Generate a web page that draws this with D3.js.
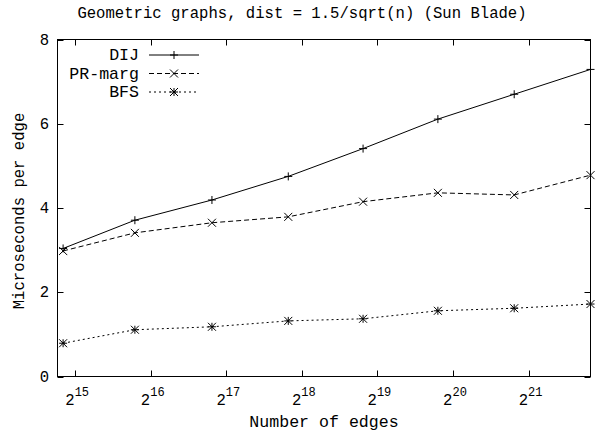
<!DOCTYPE html>
<html>
<head>
<meta charset="utf-8">
<script src="https://cdn.jsdelivr.net/npm/d3@7"></script>
<style>
  html, body { margin: 0; padding: 0; background: #fff; }
  svg { display: block; }
  text { font-family: "Liberation Mono", "DejaVu Sans Mono", monospace; fill: #000; }
</style>
</head>
<body>
<svg id="chart" width="601" height="434"></svg>
<script>
// Number of edges for each measured graph size
const edges = [29330, 56660, 114900, 231400, 459600, 912900, 1838400, 3702300];
// Microseconds per edge for each algorithm
const dij   = [3.04, 3.71, 4.19, 4.75, 5.41, 6.11, 6.70, 7.29];
const prMarg = [2.98, 3.41, 3.65, 3.79, 4.15, 4.36, 4.31, 4.78];
const bfs   = [0.79, 1.11, 1.18, 1.32, 1.37, 1.56, 1.62, 1.72];
const seriesNames = ["DIJ", "PR-marg", "BFS"];
const xTickExponents = [15, 16, 17, 18, 19, 20, 21];
const yTicks = [0, 2, 4, 6, 8];

const svg = d3.select("#chart");
const margin = { left: 57.5, right: 601 - 590.5, top: 39.5, bottom: 434 - 376.5 };
const W = 601, H = 434;

const x = d3.scaleLog().base(2)
  .domain([27860, d3.max(edges)])
  .range([margin.left, W - margin.right]);
const y = d3.scaleLinear()
  .domain([0, 8])
  .range([H - margin.bottom, margin.top]);

const series = [
  { name: seriesNames[0], values: dij,    dash: null,  marker: "plus" },
  { name: seriesNames[1], values: prMarg, dash: "5,3", marker: "cross" },
  { name: seriesNames[2], values: bfs,    dash: "2,3", marker: "star" }
];

// Title
svg.append("text")
  .attr("x", 302).attr("y", 18)
  .attr("text-anchor", "middle")
  .style("font-size", "15.6px")
  .text("Geometric graphs, dist = 1.5/sqrt(n) (Sun Blade)");

// Frame
const x0 = margin.left, x1 = W - margin.right, y0 = H - margin.bottom, y1 = margin.top;
svg.append("rect")
  .attr("x", x0).attr("y", y1)
  .attr("width", x1 - x0).attr("height", y0 - y1)
  .attr("fill", "none").attr("stroke", "#000").attr("stroke-width", 1);

// Axes with inward ticks, mirrored on top/right
const tickVals = xTickExponents.map(e => Math.pow(2, e));
const tickLen = 6;
const ticks = svg.append("g").attr("stroke", "#000").attr("stroke-width", 1);
tickVals.forEach(v => {
  const px = Math.round(x(v)) + 0.5;
  ticks.append("line").attr("x1", px).attr("x2", px).attr("y1", y0).attr("y2", y0 - tickLen);
  ticks.append("line").attr("x1", px).attr("x2", px).attr("y1", y1).attr("y2", y1 + tickLen);
});
yTicks.forEach(v => {
  const py = Math.round(y(v)) + 0.5;
  ticks.append("line").attr("x1", x0).attr("x2", x0 + tickLen).attr("y1", py).attr("y2", py);
  ticks.append("line").attr("x1", x1).attr("x2", x1 - tickLen).attr("y1", py).attr("y2", py);
});

// X tick labels: 2 with a superscript exponent
xTickExponents.forEach(e => {
  const t = svg.append("text")
    .attr("x", x(Math.pow(2, e)) + 2).attr("y", 405)
    .attr("text-anchor", "middle")
    .style("font-size", "15.6px");
  t.append("tspan").text("2");
  t.append("tspan").attr("dy", -9).style("font-size", "12px").text(String(e));
});

// Y tick labels
yTicks.forEach(v => {
  svg.append("text")
    .attr("x", 49).attr("y", y(v) + 5)
    .attr("text-anchor", "end")
    .style("font-size", "15.6px")
    .text(String(v));
});

// Axis titles
svg.append("text")
  .attr("x", (x0 + x1) / 2).attr("y", 427)
  .attr("text-anchor", "middle")
  .style("font-size", "16.6px")
  .text("Number of edges");
svg.append("text")
  .attr("transform", `translate(24,${(y0 + y1) / 2 + 3}) rotate(-90)`)
  .attr("text-anchor", "middle")
  .style("font-size", "15.6px")
  .text("Microseconds per edge");

// Point markers
function drawMarker(g, type, cx, cy) {
  const s = 4;
  const p = g.append("g").attr("stroke", "#000").attr("stroke-width", 1).attr("fill", "none");
  if (type === "plus" || type === "star") {
    p.append("line").attr("x1", cx - s).attr("x2", cx + s).attr("y1", cy).attr("y2", cy);
    p.append("line").attr("x1", cx).attr("x2", cx).attr("y1", cy - s).attr("y2", cy + s);
  }
  if (type === "cross" || type === "star") {
    p.append("line").attr("x1", cx - s).attr("x2", cx + s).attr("y1", cy - s).attr("y2", cy + s);
    p.append("line").attr("x1", cx - s).attr("x2", cx + s).attr("y1", cy + s).attr("y2", cy - s);
  }
}

const line = d3.line().x(d => x(d[0])).y(d => y(d[1]));
const plot = svg.append("g");
series.forEach(s => {
  const pts = edges.map((e, i) => [e, s.values[i]]);
  plot.append("path")
    .attr("d", line(pts))
    .attr("fill", "none").attr("stroke", "#000").attr("stroke-width", 1)
    .attr("stroke-dasharray", s.dash);
  pts.forEach(p => drawMarker(plot, s.marker, x(p[0]), y(p[1])));
});

// Legend
const legend = svg.append("g");
series.forEach((s, i) => {
  const ly = 55 + i * 18.5;
  legend.append("text")
    .attr("x", 139).attr("y", ly + 5)
    .attr("text-anchor", "end")
    .style("font-size", "16.6px")
    .text(s.name);
  legend.append("line")
    .attr("x1", 149).attr("x2", 199).attr("y1", ly).attr("y2", ly)
    .attr("stroke", "#000").attr("stroke-width", 1)
    .attr("stroke-dasharray", s.dash);
  drawMarker(legend, s.marker, 174, ly);
});
</script>
</body>
</html>
